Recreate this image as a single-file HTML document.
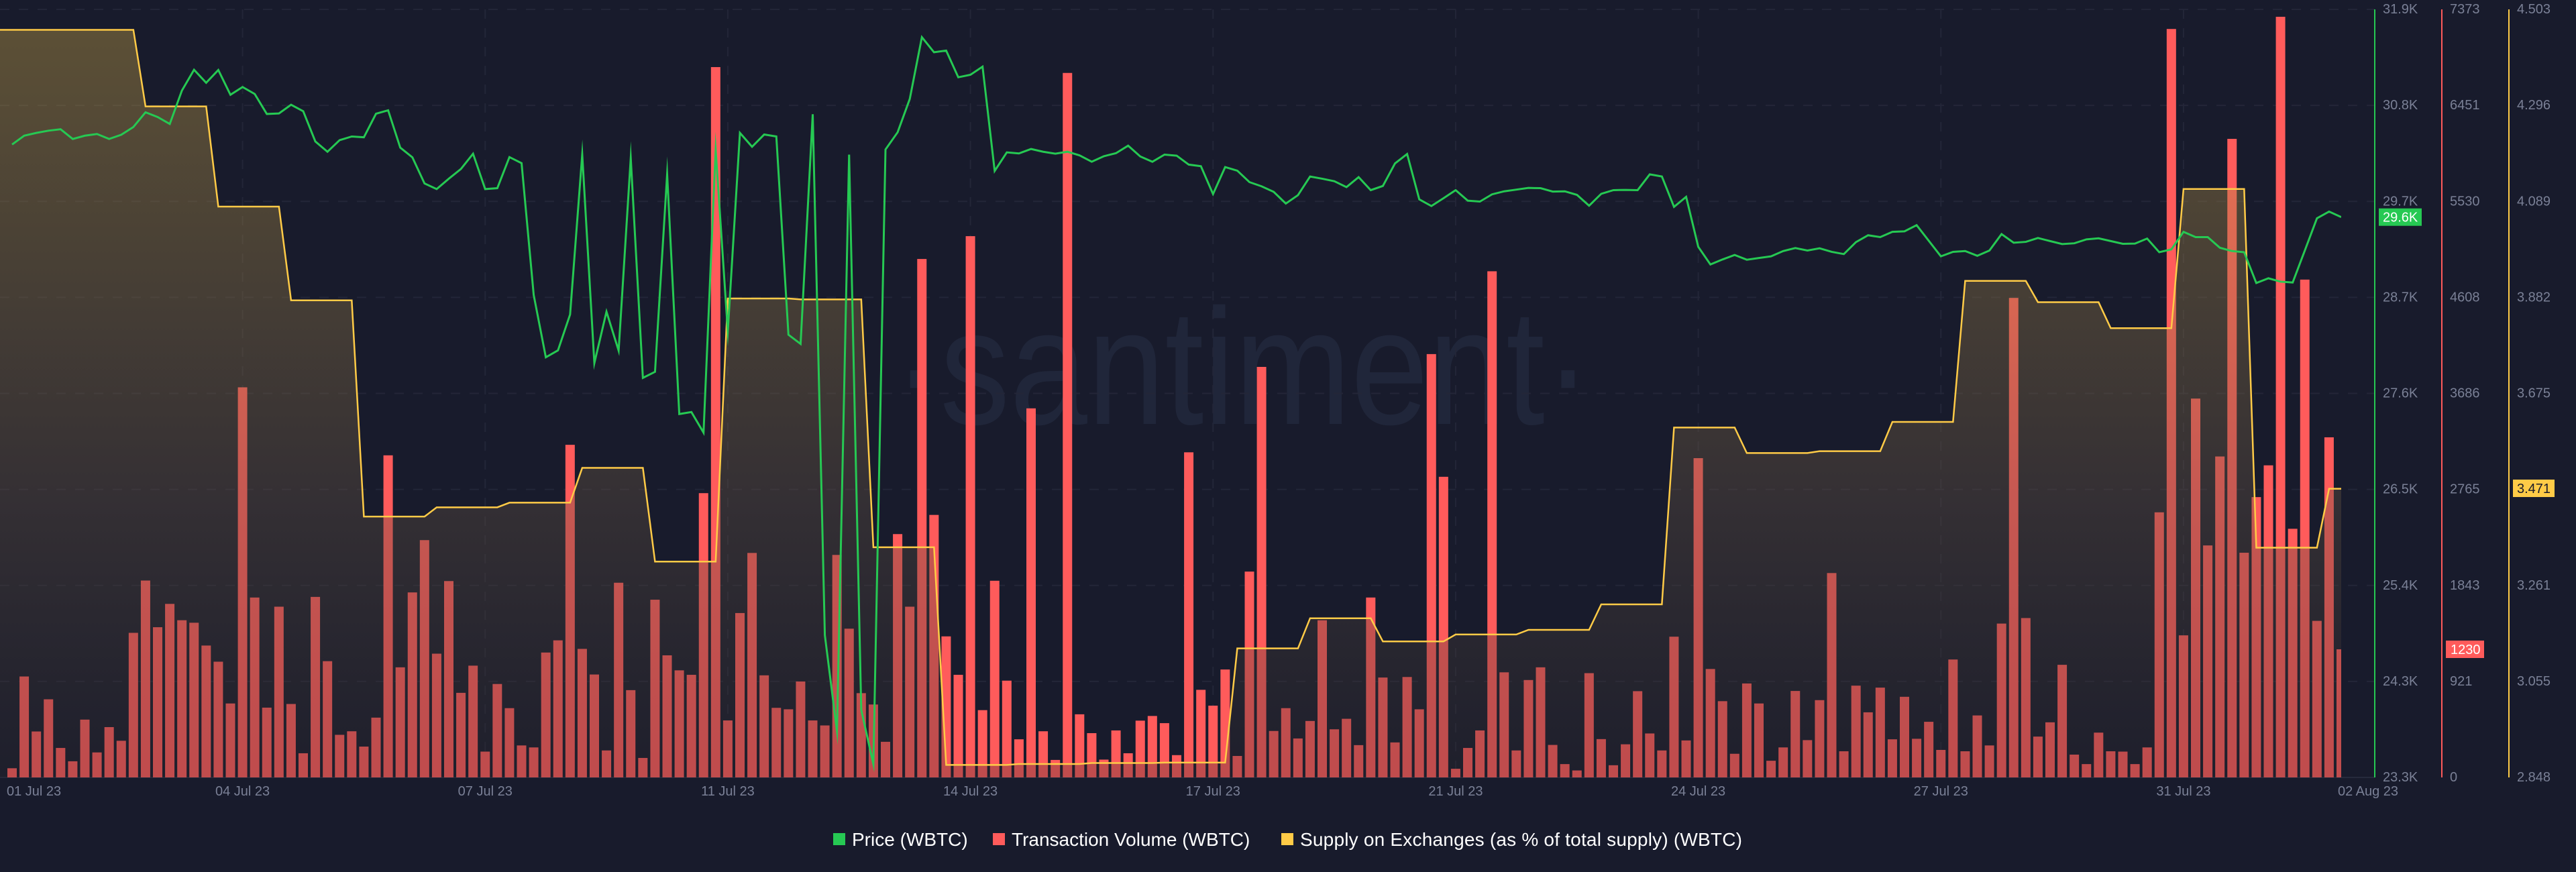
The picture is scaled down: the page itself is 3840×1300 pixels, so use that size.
<!DOCTYPE html>
<html lang="en">
<head>
<meta charset="utf-8">
<title>WBTC Price, Transaction Volume and Supply on Exchanges</title>
<style>
  html, body { margin: 0; padding: 0; background: #181b2c; }
  body { width: 3840px; height: 1300px; overflow: hidden; }
  svg { display: block; font-family: "Liberation Sans", Arial, sans-serif; }
</style>
</head>
<body>
<svg id="chart" xmlns="http://www.w3.org/2000/svg" width="3840" height="1300" viewBox="0 0 3840 1300">
  <defs>
    <linearGradient id="supplyFill" x1="0" y1="0" x2="0" y2="1">
      <stop offset="0" stop-color="#d0aa47" stop-opacity="0.37"/>
      <stop offset="0.62" stop-color="#665442" stop-opacity="0.37"/>
      <stop offset="1" stop-color="#2c282c" stop-opacity="0.3"/>
    </linearGradient>
    <clipPath id="plotClip"><rect x="0" y="0" width="3490" height="1159"/></clipPath>
  </defs>
  <rect x="0" y="0" width="3840" height="1300" fill="#181b2c"/>
  <text x="1332" y="632" font-size="246" fill="#20263a" textLength="1040" lengthAdjust="spacingAndGlyphs">·santiment·</text>
  <g id="grid"></g>
  <g id="bars" clip-path="url(#plotClip)"></g>
  <g id="supply" clip-path="url(#plotClip)"></g>
  <g id="price" clip-path="url(#plotClip)"></g>
  <g id="axes"></g>
  <g id="legend">
    <g>
      <rect x="1242" y="1242" width="18" height="18" fill="#26c953"/>
      <text x="1270" y="1261" font-size="28" fill="#ffffff">Price (WBTC)</text>
    </g>
    <g>
      <rect x="1480" y="1242" width="18" height="18" fill="#ff5b5b"/>
      <text x="1508" y="1261" font-size="28" fill="#ffffff">Transaction Volume (WBTC)</text>
    </g>
    <g>
      <rect x="1910" y="1242" width="18" height="18" fill="#ffcb47"/>
      <text x="1938" y="1261" font-size="28" fill="#ffffff" textLength="659" lengthAdjust="spacing">Supply on Exchanges (as % of total supply) (WBTC)</text>
    </g>
  </g>
</svg>
<script>
// ---- chart data (4-hourly points, 01 Jul 23 to 02 Aug 23) ----
const xTickLabels = ["01 Jul 23","04 Jul 23","07 Jul 23","11 Jul 23","14 Jul 23","17 Jul 23","21 Jul 23","24 Jul 23","27 Jul 23","31 Jul 23","02 Aug 23"];
const xTickPoints = [0,19,39,59,79,99,119,139,159,179,192];
const priceTicks = ["31.9K","30.8K","29.7K","28.7K","27.6K","26.5K","25.4K","24.3K","23.3K"];
const volumeTicks = ["7373","6451","5530","4608","3686","2765","1843","921","0"];
const supplyTicks = ["4.503","4.296","4.089","3.882","3.675","3.468","3.261","3.055","2.848"];
const priceDomain = [23300, 31900];
const volumeDomain = [0, 7373];
const supplyDomain = [2.848, 4.503];
const priceValues = [30387,30486,30517,30542,30558,30449,30486,30505,30449,30496,30583,30748,30695,30617,30991,31224,31078,31221,30944,31031,
30953,30729,30735,30832,30760,30421,30306,30436,30477,30468,30732,30770,30352,30243,29951,29888,30004,30113,30284,29888,
29898,30246,30178,28702,28004,28082,28484,30274,27939,28515,28079,30234,27774,27842,30053,27369,27391,27161,30327,28297,
30517,30362,30499,30477,28257,28154,30726,24893,23819,30274,24056,23449,30331,30524,30897,31589,31420,31439,31140,31168,
31259,30091,30299,30287,30337,30306,30284,30306,30265,30194,30256,30290,30374,30253,30194,30274,30262,30162,30144,29832,
30134,30094,29966,29919,29857,29726,29820,30029,30004,29976,29910,30022,29876,29923,30175,30281,29773,29698,29786,29876,
29758,29748,29829,29863,29882,29901,29898,29860,29863,29823,29702,29835,29876,29879,29876,30053,30029,29689,29801,29241,
29044,29100,29150,29097,29116,29135,29194,29228,29200,29225,29185,29160,29294,29371,29350,29409,29415,29484,29309,29135,
29185,29194,29141,29200,29384,29287,29297,29340,29306,29272,29281,29325,29337,29306,29275,29278,29334,29181,29213,29409,
29350,29350,29231,29194,29181,28836,28889,28851,28842,29200,29561,29636,29574];
const volumeValues = [88,969,441,750,283,155,555,240,483,352,1388,1890,1442,1666,1509,1485,1266,1111,710,3745,
1727,670,1639,705,232,1733,1116,409,443,296,574,3092,1057,1776,2278,1188,1885,812,1073,248,
897,665,307,288,1199,1316,3193,1234,988,259,1869,838,187,1706,1172,1028,985,2729,6819,547,
1578,2155,980,668,654,921,547,499,2136,1428,809,700,342,2336,1639,4977,2520,1354,985,5196,
646,1888,929,366,3543,443,168,6763,606,425,171,451,232,545,590,521,214,3121,841,689,
1036,206,1976,3941,446,665,374,542,1509,462,563,310,1727,959,336,964,654,4064,2886,83,
283,451,4859,1009,259,935,1057,312,128,67,1001,368,117,318,828,422,259,1351,355,3065,
1041,732,227,902,710,160,288,830,358,742,1962,251,881,625,862,366,774,371,534,264,
1132,251,595,307,1477,4603,1530,392,529,1081,219,128,430,251,248,128,288,2545,7185,1364,
3637,2227,3081,6130,2157,2691,2996,7302,2387,4779,1503,3265,1230];
const supplyValues = [4.459,4.459,4.459,4.459,4.459,4.459,4.459,4.459,4.459,4.459,4.459,
4.294,4.294,4.294,4.294,4.294,4.294,
4.078,4.078,4.078,4.078,4.078,4.078,
3.876,3.876,3.876,3.876,3.876,3.876,
3.410,3.410,3.410,3.410,3.410,3.410,
3.430,3.430,3.430,3.430,3.430,3.430,
3.440,3.440,3.440,3.440,3.440,3.440,
3.515,3.515,3.515,3.515,3.515,3.515,
3.313,3.313,3.313,3.313,3.313,3.313,
3.880,3.880,3.880,3.880,3.880,3.880,
3.878,3.878,3.878,3.878,3.878,3.878,
3.344,3.344,3.344,3.344,3.344,3.344,
2.875,2.875,2.875,2.875,2.875,2.875,
2.877,2.877,2.877,2.877,2.877,2.877,
2.879,2.879,2.879,2.879,2.879,2.879,
2.880,2.880,2.880,2.880,2.880,2.880,
3.126,3.126,3.126,3.126,3.126,3.126,
3.191,3.191,3.191,3.191,3.191,3.191,
3.141,3.141,3.141,3.141,3.141,3.141,
3.156,3.156,3.156,3.156,3.156,3.156,
3.166,3.166,3.166,3.166,3.166,3.166,
3.221,3.221,3.221,3.221,3.221,3.221,
3.602,3.602,3.602,3.602,3.602,3.602,
3.547,3.547,3.547,3.547,3.547,3.547,
3.551,3.551,3.551,3.551,3.551,3.551,
3.614,3.614,3.614,3.614,3.614,3.614,
3.918,3.918,3.918,3.918,3.918,3.918,
3.872,3.872,3.872,3.872,3.872,3.872,
3.816,3.816,3.816,3.816,3.816,3.816,
4.116,4.116,4.116,4.116,4.116,4.116,
3.343,3.343,3.343,3.343,3.343,3.343,
3.470,3.470];

// ---- layout and scales ----
const NS = 'http://www.w3.org/2000/svg';
const plotTop = 14;
const plotBottom = 1159;
const plotRight = 3490;
const firstPointX = 18;
const pointStep = (plotRight - firstPointX) / 192;
function xAt(i) { return firstPointX + pointStep * i; }
function yScale(v, domain) { return plotBottom - (v - domain[0]) / (domain[1] - domain[0]) * (plotBottom - plotTop); }
function yPrice(v) { return yScale(v, priceDomain); }
function yVolume(v) { return yScale(v, volumeDomain); }
function ySupply(v) { return yScale(v, supplyDomain); }
function tickY(i) { return plotTop + (plotBottom - plotTop) * i / 8; }
function make(tag, parent) { const el = document.createElementNS(NS, tag); parent.appendChild(el); return el; }
function linePoints(values, yFn) { return values.map(function (v, i) { return xAt(i).toFixed(2) + ',' + yFn(v).toFixed(2); }).join(' L'); }

// ---- grid ----
const gridGroup = document.getElementById('grid');
priceTicks.forEach(function (t, i) {
  const g = make('line', gridGroup);
  
  
  g.setAttribute('x1', 0); g.setAttribute('x2', 3540);
  g.setAttribute('y1', tickY(i)); g.setAttribute('y2', tickY(i));
  g.setAttribute('stroke', i === 8 ? '#262a3c' : '#232638');
  g.setAttribute('stroke-width', 2);
  if (i !== 8) g.setAttribute('stroke-dasharray', '14 14');
});
xTickPoints.slice(1, 10).forEach(function (p) {
  const g = make('line', gridGroup);
  
  
  g.setAttribute('x1', xAt(p)); g.setAttribute('x2', xAt(p));
  g.setAttribute('y1', plotTop); g.setAttribute('y2', plotBottom);
  g.setAttribute('stroke', '#232638');
  g.setAttribute('stroke-width', 2);
  g.setAttribute('stroke-dasharray', '14 14');
});

// ---- volume bars ----
const barGroup = document.getElementById('bars');
volumeValues.forEach(function (v, i) {
  const b = make('rect', barGroup);
  
  
  b.setAttribute('x', (xAt(i) - 7).toFixed(2));
  b.setAttribute('y', yVolume(v).toFixed(2));
  b.setAttribute('width', 14);
  b.setAttribute('height', (plotBottom - yVolume(v)).toFixed(2));
  b.setAttribute('fill', '#ff5b5b');
});

// ---- supply area and line ----
const supplyGroup = document.getElementById('supply');
const supplyPath = 'M0,' + ySupply(supplyValues[0]).toFixed(2) + ' L' + linePoints(supplyValues, ySupply);
const supplyArea = make('path', supplyGroup);


supplyArea.setAttribute('d', supplyPath + ' L' + xAt(192).toFixed(2) + ',' + plotBottom + ' L0,' + plotBottom + ' Z');
supplyArea.setAttribute('fill', 'url(#supplyFill)');
const supplyLine = make('path', supplyGroup);


supplyLine.setAttribute('d', supplyPath);
supplyLine.setAttribute('fill', 'none');
supplyLine.setAttribute('stroke', '#ffcb47');
supplyLine.setAttribute('stroke-width', 2.5);
supplyLine.setAttribute('stroke-linejoin', 'miter');

// ---- price line ----
const priceGroup = document.getElementById('price');
const priceLine = make('path', priceGroup);


priceLine.setAttribute('d', 'M' + linePoints(priceValues, yPrice));
priceLine.setAttribute('fill', 'none');
priceLine.setAttribute('stroke', '#26c953');
priceLine.setAttribute('stroke-width', 3);
priceLine.setAttribute('stroke-linejoin', 'miter');
priceLine.setAttribute('stroke-miterlimit', 20);

// ---- axes ----
const axesGroup = document.getElementById('axes');
function drawAxis(x, color, labels, textX) {
  const line = make('line', axesGroup);
  
  
  line.setAttribute('x1', x); line.setAttribute('x2', x);
  line.setAttribute('y1', plotTop); line.setAttribute('y2', plotBottom);
  line.setAttribute('stroke', color);
  line.setAttribute('stroke-width', 2);
  labels.forEach(function (t, i) {
    const label = make('text', axesGroup);
    
    
    label.setAttribute('x', textX);
    label.setAttribute('y', tickY(i) + 6);
    label.setAttribute('font-size', 20);
    label.setAttribute('fill', '#7a8096');
    label.textContent = t;
  });
}
drawAxis(3540, '#26c953', priceTicks, 3552);
drawAxis(3640, '#ff5b5b', volumeTicks, 3652);
drawAxis(3740, '#ffcb47', supplyTicks, 3752);

xTickLabels.forEach(function (t, i) {
  const label = make('text', axesGroup);
  
  
  if (i === 0) {
    label.setAttribute('x', 10);
    label.setAttribute('text-anchor', 'start');
  } else if (i === xTickLabels.length - 1) {
    label.setAttribute('x', 3530);
    label.setAttribute('text-anchor', 'middle');
  } else {
    label.setAttribute('x', xAt(xTickPoints[i]));
    label.setAttribute('text-anchor', 'middle');
  }
  label.setAttribute('y', 1186);
  label.setAttribute('font-size', 20);
  label.setAttribute('fill', '#7a8096');
  label.textContent = t;
});

// ---- latest value badges ----
function drawBadge(boxX, boxW, centerY, fill, textColor, text, textX) {
  const box = make('rect', axesGroup);
  
  
  box.setAttribute('x', boxX);
  box.setAttribute('y', centerY - 13);
  box.setAttribute('width', boxW);
  box.setAttribute('height', 26);
  box.setAttribute('fill', fill);
  const label = make('text', axesGroup);
  
  
  label.setAttribute('x', textX);
  label.setAttribute('y', centerY + 7);
  label.setAttribute('font-size', 20);
  label.setAttribute('fill', textColor);
  label.textContent = text;
}
const lastPrice = priceValues[priceValues.length - 1];
const lastVolume = volumeValues[volumeValues.length - 1];
const lastSupply = 3.471;
drawBadge(3546, 64, yPrice(lastPrice), '#26c953', '#ffffff', (lastPrice / 1000).toFixed(1) + 'K', 3552);
drawBadge(3646, 57, yVolume(lastVolume), '#ff5b5b', '#ffffff', String(lastVolume), 3653);
drawBadge(3746, 62, ySupply(lastSupply), '#ffcb47', '#1a1b2a', lastSupply.toFixed(3), 3752);
</script>
</body>
</html>
